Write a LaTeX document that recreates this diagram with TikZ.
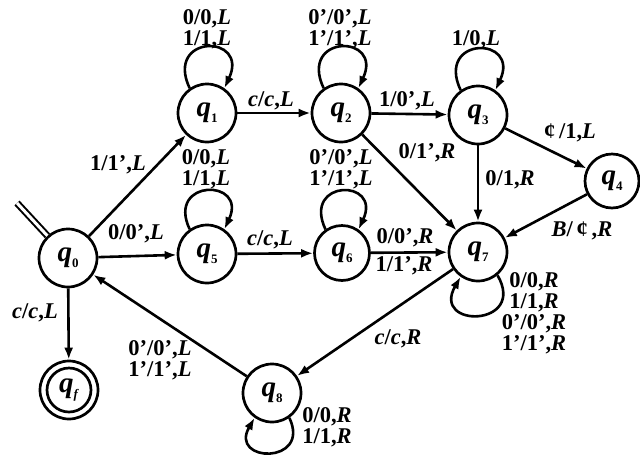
\documentclass[tikz,border=0pt]{standalone}
\usepackage{fontspec}
\setmainfont{Liberation Serif}
\usetikzlibrary{arrows.meta}
\newcommand{\st}[1]{\textbf{\textit{q}}\raisebox{-0.45ex}{\fontsize{13}{13}\selectfont\textbf{#1}}}
\newcommand{\Lt}{\textit{L}}
\newcommand{\Rt}{\textit{R}}
\newcommand{\ct}{\textit{c}}
\begin{document}
\begin{tikzpicture}[x=1pt,y=-1pt,
  state/.style={circle,draw,line width=2.7pt,minimum size=58pt,inner sep=0pt,font=\fontsize{29}{29}\selectfont\bfseries},
  lab/.style={font=\fontsize{22.5}{21}\selectfont\bfseries,inner sep=0pt,align=center},
  tr/.style={line width=2.6pt,-{Latex[length=12pt,width=9pt]}}]
\useasboundingbox (0,0) rectangle (640,456);
% states
\node[state] (q0) at (68,258) {\st{0}};
\node[state] (q1) at (207,113) {\st{1}};
\node[state] (q2) at (341,113) {\st{2}};
\node[state] (q3) at (478,115) {\st{3}};
\node[state,minimum size=54pt] (q4) at (612,181) {\st{4}};
\node[state] (q5) at (207,254) {\st{5}};
\node[state,minimum size=55pt] (q6) at (342,253) {\st{6}};
\node[state] (q7) at (478,252) {\st{7}};
\node[state] (q8) at (272,393) {\st{8}};
\node[state] (qf) at (69,390) {\st{\textit{f}}};
\draw[line width=2.7pt] (qf) circle (22pt);
% initial
\coordinate (init) at (17,203);
\draw[line width=2pt,double,double distance=3pt] (init) -- (q0);
% transitions
\draw[tr] (q0) -- (q1);
\draw[tr] (q0) -- (q5);
\draw[tr] (q0) -- (qf);
\draw[tr] (q8) -- (q0);
\draw[tr] (q1) -- (q2);
\draw[tr] (q5) -- (q6);
\draw[tr] (q2) -- (q3);
\draw[tr] (q2) -- (q7);
\draw[tr] (q3) -- (q7);
\draw[tr] (q3) -- (q4);
\draw[tr] (q4) -- (q7);
\draw[tr] (q6) -- (q7);
\draw[tr] (q7) -- (q8);
% loops
\draw[tr] (q1.125) .. controls +(115:60pt) and +(65:60pt) .. (q1.55);
\draw[tr] (q2.125) .. controls +(115:60pt) and +(65:60pt) .. (q2.55);
\draw[tr] (q3.125) .. controls +(115:60pt) and +(65:60pt) .. (q3.55);
\draw[tr] (q5.125) .. controls +(115:56pt) and +(65:56pt) .. (q5.55);
\draw[tr] (q6.125) .. controls +(115:56pt) and +(65:56pt) .. (q6.55);
\draw[tr] (q7.-50) .. controls +(-60:60pt) and +(-120:60pt) .. (q7.-125);
\draw[tr] (q8.-55) .. controls +(-65:52pt) and +(-120:52pt) .. (q8.-125);
% labels
\node[lab] (l01) at (118,165) {1/1',\Lt};
\node[lab] (l05) at (136,234) {0/0',\Lt};
\node[lab] (l0f) at (35,313) {\ct/\ct,\Lt};
\node[lab] (l80) at (160,360) {0'/0',\Lt\\1'/1',\Lt};
\node[lab] (l11) at (207,29) {0/0,\Lt\\1/1,\Lt};
\node[lab] (l22) at (340,29) {0'/0',\Lt\\1'/1',\Lt};
\node[lab] (l33) at (476,40) {1/0,\Lt};
\node[lab] (l55) at (206,169) {0/0,\Lt\\1/1,\Lt};
\node[lab] (l66) at (341,169) {0'/0',\Lt\\1'/1',\Lt};
\node[lab] (l12) at (271,101) {\ct/\ct,\Lt};
\node[lab] (l56) at (270,240) {\ct/\ct,\Lt};
\node[lab] (l23) at (407,101) {1/0',\Lt};
\node[lab] (l27) at (427,153) {0/1',\Rt};
\node[lab] (l37) at (510,180) {0/1,\Rt};
\node[lab] (l34) at (570,133) {¢\,/1,\Lt};
\node[lab] (l47) at (582,231) {\textit{B}/\,¢\,,\Rt};
\node[lab] (l67a) at (405,238) {0/0',\Rt};
\node[lab] (l67b) at (404,266) {1/1',\Rt};
\node[lab] (l78) at (398,339) {\ct/\ct,\Rt};
\node[lab] (l77) at (534,313) {0/0,\Rt\\1/1,\Rt\\0'/0',\Rt\\1'/1',\Rt};
\node[lab] (l88) at (327,427) {0/0,\Rt\\1/1,\Rt};
\end{tikzpicture}
\end{document}
